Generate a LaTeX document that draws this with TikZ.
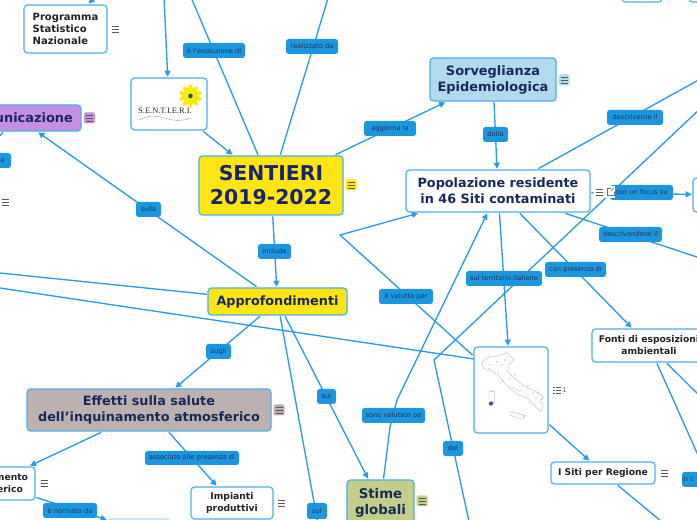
\documentclass[tikz,border=0pt]{standalone}
\usepackage{fontspec}
\setmainfont{DejaVu Sans}
\newfontfamily\logofont{Liberation Serif}
\usetikzlibrary{arrows.meta}
\definecolor{linecol}{HTML}{2A9BE2}
\definecolor{labfill}{HTML}{1C96DE}
\definecolor{labtext}{HTML}{1B3558}
\definecolor{navy}{HTML}{182A5C}
\definecolor{bordercol}{HTML}{4AAEEB}
\definecolor{sunfill}{HTML}{FFE512}
\definecolor{lilac}{HTML}{C58FE3}
\definecolor{skyfill}{HTML}{B3D9EC}
\definecolor{taupe}{HTML}{BDB0B0}
\definecolor{olivefill}{HTML}{C4CE8B}
\definecolor{ink}{HTML}{222222}
\tikzset{
  basebox/.style={draw=bordercol,line width=0.9pt,rounded corners=2.6pt,inner sep=0pt,align=center,outer sep=1pt},
  whitebox/.style={basebox,fill=white,text=ink,font=\bfseries\fontsize{6.9}{9}\selectfont},
  titlebox/.style={basebox,fill=white,text=navy,font=\bfseries\fontsize{9.6}{12}\selectfont},
  lab/.style={fill=labfill,rounded corners=2pt,inner sep=0pt,align=center,text=labtext,font=\fontsize{5}{6}\selectfont},
  conn/.style={draw=linecol,line width=1pt},
  arrowconn/.style={conn,-{Triangle[length=4.5pt,width=4.5pt]}},
  iconbar/.style={draw=#1,line width=0.6pt},
}
% name, x0, y0, x1, y1, style, text
\newcommand{\mapbox}[7]{%
  \pgfmathsetmacro\mbcx{(#2+#4)/2}%
  \pgfmathsetmacro\mbcy{(#3+#5)/2}%
  \pgfmathsetmacro\mbw{(#4-#2)*0.75}%
  \pgfmathsetmacro\mbh{(#5-#3)*0.75}%
  \node[#6,minimum width=\mbw pt,minimum height=\mbh pt] (#1) at (\mbcx,\mbcy) {#7};}
% x, y, background (or none)
\newcommand{\menuicon}[3]{%
  \fill[#3,rounded corners=1pt] (#1-5.5,#2-5.5) rectangle (#1+5.5,#2+5.5);
  \foreach \dy in {-3,0,3} {\draw[iconbar=black!65] (#1-3.5,#2+\dy) -- (#1+3.5,#2+\dy);}}
\begin{document}
\begin{tikzpicture}[x=0.75pt,y=-0.75pt]
\useasboundingbox (0,0) rectangle (697,520);
\clip (0,0) rectangle (697,520);
% boxes
\mapbox{prog}{24}{5}{107}{53}{whitebox,font=\bfseries\fontsize{7.5}{9}\selectfont,align=left}{Programma\\Statistico\\Nazionale}
\mapbox{logo}{131}{78}{207}{130}{whitebox}{}
\mapbox{comu}{-45}{105}{81}{131}{titlebox,fill=lilac,font=\bfseries\fontsize{9.7}{12}\selectfont}{Comunicazione}
\mapbox{sent}{199}{156}{343}{215}{titlebox,fill=sunfill,font=\bfseries\fontsize{15.3}{18}\selectfont,text=navy!90!blue}{SENTIERI\\2019-2022}
\mapbox{sorv}{430}{58}{556}{101}{titlebox,fill=skyfill,font=\bfseries\fontsize{9.7}{12}\selectfont}{Sorveglianza\\Epidemiologica}
\mapbox{popo}{406}{170}{590}{212}{titlebox}{Popolazione residente\\in 46 Siti contaminati}
\mapbox{appr}{208}{288}{347}{315}{titlebox,fill=sunfill}{Approfondimenti}
\mapbox{effe}{27}{389}{271}{431}{titlebox,fill=taupe}{Effetti sulla salute\\dell'inquinamento atmosferico}
\mapbox{inqu}{-51}{467}{35}{500}{whitebox}{Inquinamento\\atmosferico}
\mapbox{impi}{191}{487}{273}{519}{whitebox}{Impianti\\produttivi}
\mapbox{stim}{347}{480}{414}{526}{titlebox,fill=olivefill,font=\bfseries\fontsize{10}{12}\selectfont}{Stime\\globali}
\mapbox{ital}{474}{347}{548}{433}{whitebox}{}
\mapbox{siti}{551}{462}{655}{484}{whitebox}{I Siti per Regione}
\mapbox{font}{592}{329}{706}{362}{whitebox}{Fonti di esposizioni\\ambientali}
\mapbox{rnod}{693}{178}{760}{212}{whitebox}{}
\mapbox{topa}{622}{-30}{662}{2}{whitebox}{}
\mapbox{topb}{689}{-30}{760}{2}{whitebox}{}
\mapbox{norm}{108}{519}{170}{541}{whitebox,draw=skyfill}{}
% free ends
\coordinate (offLogo) at (164,-3);
\coordinate (offProg) at (92,0);
\coordinate (offEvol) at (190,-5);
\coordinate (offReal) at (329,-5);
\coordinate (offDescr) at (760,46);
\coordinate (offDescd) at (760,278);
\coordinate (offComu) at (-12,147);
\coordinate (offAppr) at (-20,271);
\coordinate (offItal) at (-20,285);
\coordinate (italyL) at (474,359);
\coordinate (offSul) at (330,590);
\coordinate (offFontA) at (710,482);
\coordinate (offFontB) at (720,416);
\coordinate (offSiti) at (697,551);
\coordinate (delLow) at (473,540);
\coordinate (delCorner) at (434,360);
\coordinate (delOff) at (720,90);
\coordinate (valCorner) at (340,235);
\coordinate (stimA) at (390,427);
\coordinate (stimB) at (397,400);
% connectors
\draw[arrowconn] (offLogo) -- (logo);
\draw[arrowconn] (offProg) -- (prog);
\draw[arrowconn] (logo) -- (sent);
\draw[conn] (sent) -- (offEvol);
\draw[conn] (sent) -- (offReal);
\draw[arrowconn] (sent) -- (sorv);
\draw[arrowconn] (sorv) -- (popo);
\draw[conn] (popo) -- (offDescr);
\draw[conn] (delLow) -- (delCorner) -- (delOff);
\draw[arrowconn] (popo) -- (rnod);
\draw[arrowconn] (popo) -- (offDescd);
\draw[arrowconn] (popo) -- (font);
\draw[arrowconn] (popo) -- (ital);
\draw[arrowconn] (ital) -- (valCorner) -- (popo);
\draw[arrowconn] (stim) -- (stimA) -- (stimB) -- (popo);
\draw[arrowconn] (appr) -- (stim);
\draw[conn] (appr) -- (offSul);
\draw[arrowconn] (appr) -- (effe);
\draw[arrowconn] (sent) -- (appr);
\draw[arrowconn] (appr) -- (comu);
\draw[conn] (appr) -- (offAppr);
\draw[conn] (offItal) -- (italyL);
\draw[arrowconn] (effe) -- (inqu);
\draw[arrowconn] (effe) -- (impi);
\draw[arrowconn] (inqu) -- (norm);
\draw[conn] (comu) -- (offComu);
\draw[arrowconn] (ital) -- (siti);
\draw[conn] (siti) -- (offSiti);
\draw[conn] (font) -- (offFontA);
\draw[conn] (font) -- (offFontB);
% connector labels
\mapbox{l1}{183}{43}{245}{58}{lab}{è l'evoluzione di}
\mapbox{l2}{286}{39}{338}{54}{lab}{realizzato da}
\mapbox{l3}{364}{121}{416}{136}{lab}{aggiorna la}
\mapbox{l4}{483}{127}{508}{142}{lab}{della}
\mapbox{l5}{607}{110}{663}{125}{lab}{descriverne il}
\mapbox{l6}{610}{185}{673}{200}{lab}{con un focus su}
\mapbox{l7}{599}{227}{662}{242}{lab}{descrivendone il}
\mapbox{l8}{545}{262}{606}{277}{lab}{con presenza di}
\mapbox{l9}{466}{271}{542}{286}{lab}{sul territorio italiano}
\mapbox{l10}{379}{289}{433}{304}{lab}{è valutta per}
\mapbox{l11}{362}{408}{425}{423}{lab}{sono valutate pe}
\mapbox{l12}{443}{441}{463}{456}{lab}{del}
\mapbox{l13}{136}{202}{161}{217}{lab}{sulla}
\mapbox{l14}{258}{244}{291}{259}{lab}{include}
\mapbox{l15}{206}{344}{231}{359}{lab}{sugli}
\mapbox{l16}{317}{389}{336}{404}{lab}{sul}
\mapbox{l17}{307}{503}{327}{519}{lab}{sul}
\mapbox{l18}{145}{451}{239}{465}{lab}{associato alle presenza di}
\mapbox{l19}{43}{503}{97}{518}{lab}{è normato da}
\mapbox{l20}{-6}{153}{11}{168}{lab}{a}
\mapbox{l21}{682}{472}{712}{487}{lab,text width=22.5pt,align=left}{in c}
% menu icons
\menuicon{115}{29}{white}
\menuicon{89.5}{118}{lilac}
\menuicon{5.5}{202}{white}
\menuicon{351}{185}{sunfill}
\menuicon{564}{80}{skyfill}
\menuicon{279}{410}{taupe}
\menuicon{44}{483}{white}
\menuicon{281}{503}{white}
\menuicon{422}{501}{olivefill}
\menuicon{664}{473}{white}
% popolazione icons
\fill[white] (594,186) rectangle (604,198);
\menuicon{599}{192}{white}
\fill[white] (605,186) rectangle (615,198);
\draw[black!55,line width=0.5pt] (610.5,188) -- (607.5,188) -- (607.5,195) -- (614,195) -- (614,192);
\draw[black!55,line width=0.5pt] (611,191) -- (614,188);
% italy list icon
\foreach \dy in {-3,0,3} {
  \draw[iconbar=labtext!80] (553,390+\dy) -- (554.5,390+\dy);
  \draw[iconbar=labtext!80] (555.5,390+\dy) -- (560.5,390+\dy);}
\node[text=black!60,inner sep=0pt,font=\fontsize{5}{6}\selectfont] (italycount) at (564.5,390.5) {1};
% logo picture
\foreach \a in {0,36,...,324} {
  \fill[yellow!90!orange,rotate around={\a:(190.5,96)}] (190.5,89.5) ellipse [x radius=1.8pt,y radius=4pt];}
\fill[teal!70!blue] (190.5,96) circle [radius=1.7pt];
\node[inner sep=0pt,text=black!85,font=\logofont\fontsize{6.3}{7}\selectfont] (logotext) at (165,110.5) {S.E.N.T.I.E.R.I.};
\draw[black!30,line width=0.4pt] (139,120) .. controls (150,114) and (158,116) .. (168,119) .. controls (176,121) and (184,121) .. (191,118);
% italy outline
\begin{scope}[draw=green!40!black!35,line width=0.3pt]
\draw (482,361.7) -- (490,356.7) -- (498,356) -- (506.7,352.7) -- (514.3,360) -- (508.3,365) -- (507.7,371.7) -- (518.3,381.7) -- (528.3,388.3) -- (538.3,393.3) -- (543.3,396.7) -- (540,401.7) -- (543.3,405) -- (541,411.7) -- (531.7,403.3) -- (528.3,398.3) -- (518.3,395) -- (511.7,390) -- (503.3,381.7) -- (498.3,375) -- (490,370) -- (483.3,368.3) -- cycle;
\draw (510,411.7) -- (523.3,415) -- (525,418.3) -- (518.3,418.3) -- (510,415) -- cycle;
\draw (489,391.7) -- (495,390.7) -- (494.3,403.3) -- (489,405) -- cycle;
\end{scope}
\fill[blue!45!black!70] (491,403.5) circle [radius=1.6pt];
\foreach \px/\py in {490/365,489/369,505/360,515/375,503/381,513/388,517/390,533/393,538/392,528/386,542/399,524/416,498/372,492/391,497/362,502/365,510/379,520/391,536/398}{
  \fill[blue!60!black!50] (\px,\py) circle [radius=0.45pt];}
\end{tikzpicture}
\end{document}
